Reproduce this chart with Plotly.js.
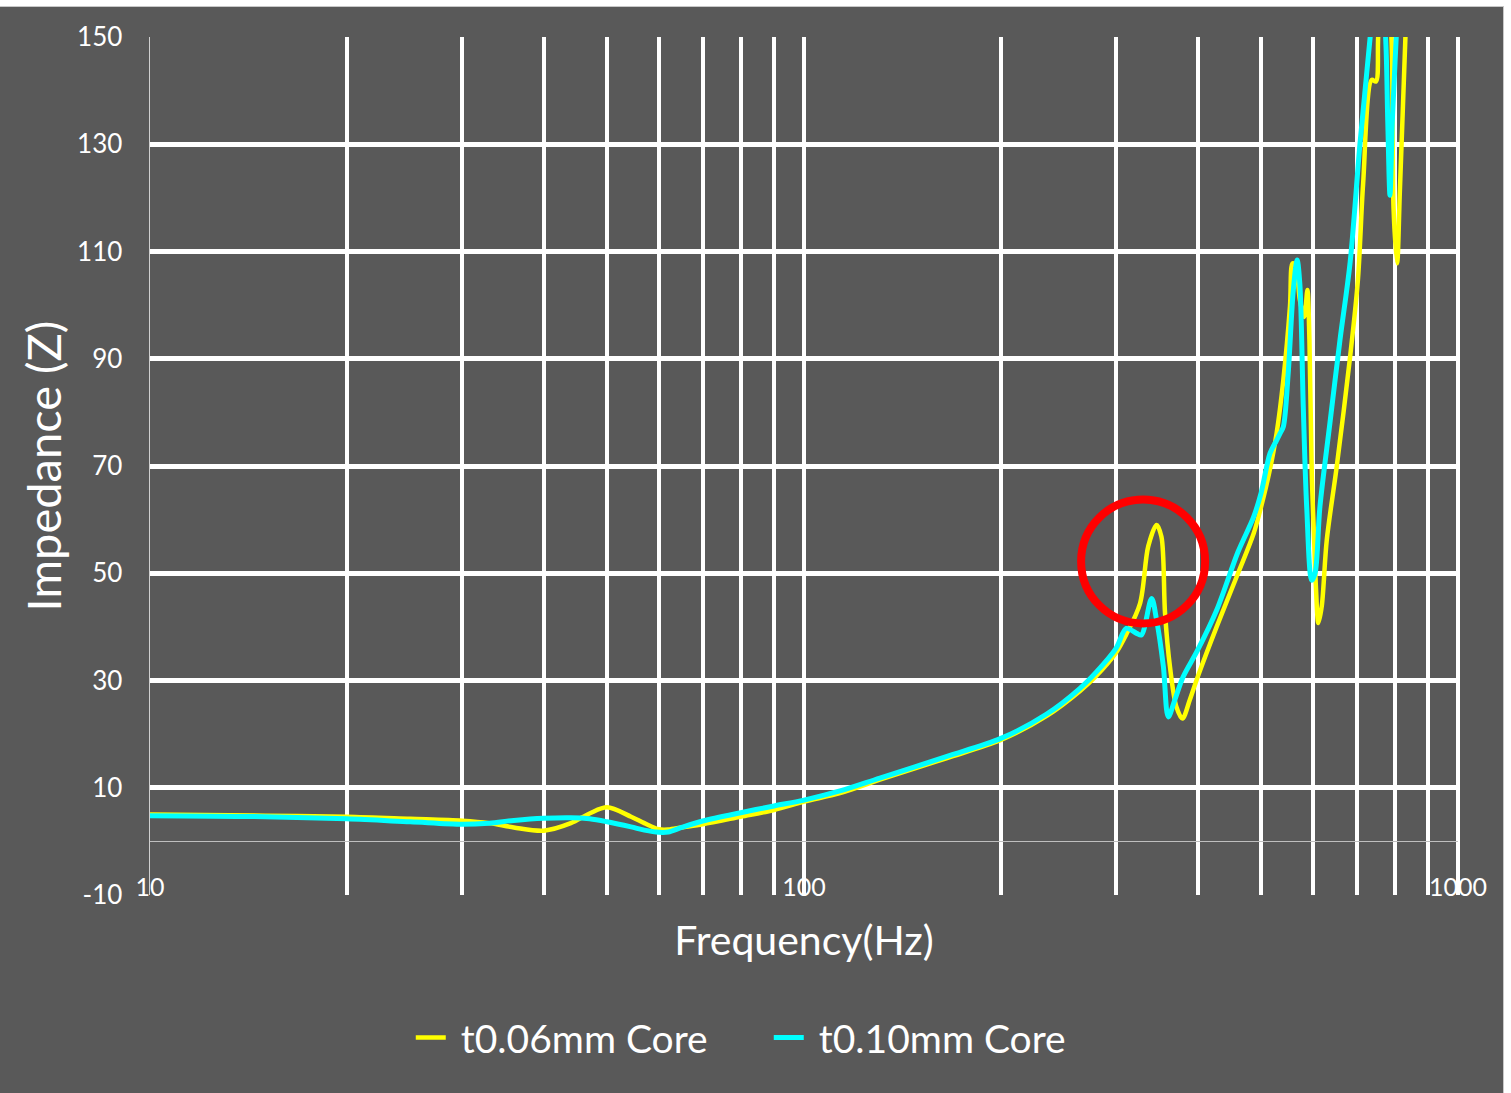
<!DOCTYPE html>
<html>
<head>
<meta charset="utf-8">
<script src="https://cdn.plot.ly/plotly-3.0.1.min.js"></script>
<style>
  html, body { margin: 0; padding: 0; background: #ffffff; }
  #frame {
    position: absolute; left: 0; top: 6px;
    width: 1504px; height: 1087px;
    border-top: 1px solid #c8c8c8; border-right: 1px solid #c8c8c8;
    box-sizing: border-box; background: #595959;
  }
  #chart { position: absolute; left: 0; top: 0; width: 1503px; height: 1086px; }
</style>
</head>
<body>
<div id="frame"><div id="chart"></div></div>
<script>
// Impedance sweep of two core thicknesses (frequency in Hz, impedance in Z)
const seriesNames = ["t0.06mm Core", "t0.10mm Core"];

const freqThin = [10, 15, 20, 25, 30, 33, 36, 40, 44, 47, 50, 54.4, 57, 60, 62, 65, 70, 80, 90, 100,
  113.5, 130.6, 165, 200, 235, 264, 280, 300, 311, 326.5, 336, 346, 352, 356.5, 362.7, 371, 379, 389,
  400, 427.5, 461, 487, 500, 515, 528, 540.6, 553.4, 558.5, 565, 573, 582, 588.5, 592.7, 597.6, 602.6,
  606.7, 611.6, 618.9, 630, 652.5, 684, 703, 716, 738, 749, 755, 770, 791, 797, 807, 815, 831, 845];
const impThin = [5.0, 4.8, 4.6, 4.2, 3.85, 3.4, 2.6, 2.0, 3.4, 5.2, 6.35, 4.6, 3.4, 2.25, 2.2, 2.6, 3.2, 4.6, 5.85, 7.4,
  9.0, 11.5, 15.5, 18.9, 23.4, 28.0, 30.9, 35.2, 38.6, 44.4, 55.0, 59.0, 56.8, 42.5, 32.6, 25.1, 22.9, 26.4,
  30.7, 40.0, 50.0, 57.4, 62.4, 69.0, 76.1, 86.0, 99.7, 107.8, 107.2, 101.0, 97.8, 102.8, 93.5, 68.6, 56.2,
  46.9, 40.7, 43.8, 56.2, 69.9, 90.4, 104.7, 122.6, 142.0, 141.7, 150, 170, 150, 118, 107.8, 121.5, 150, 175];

const freqThick = [10, 15, 20, 25, 30, 33, 36, 40, 44, 47, 50, 54.4, 57, 60, 62, 65, 70, 80, 90, 100,
  113.5, 130.6, 165, 200, 235, 264, 280, 300, 311, 322.5, 328, 340, 346, 354.4, 360.6, 369, 380, 400,
  427.5, 461, 487, 500, 516, 528, 534.5, 540.6, 550, 560, 567.6, 573, 580, 587, 597.6, 604.6, 615,
  637, 660, 684, 708, 734, 755, 775, 781, 787, 794, 806, 820];
const impThick = [4.8, 4.6, 4.2, 3.65, 3.2, 3.4, 3.9, 4.3, 4.4, 4.2, 3.65, 2.7, 2.1, 1.7, 1.75, 2.6, 3.8, 5.35, 6.6, 7.7,
  9.4, 11.8, 15.8, 19.2, 23.75, 28.5, 31.6, 36.0, 39.7, 38.8, 38.5, 45.3, 41.3, 32.6, 23.2, 26.4, 30.7, 35.7,
  43.1, 54.0, 60.5, 65.0, 72.4, 74.8, 76.1, 77.3, 87.3, 102.8, 108.4, 104.0, 81.0, 62.4, 48.7, 50.0, 62.4,
  78.0, 93.5, 108.0, 130.0, 150, 168, 150, 134, 120.5, 135, 152, 175];

// Axis ticks: a grid line on every 1..9 step of each decade, labels on the decades only
const freqTicks = [10, 20, 30, 40, 50, 60, 70, 80, 90, 100, 200, 300, 400, 500, 600, 700, 800, 900, 1000];
const freqTickText = freqTicks.map(v => [10, 100, 1000].includes(v) ? String(v) : "");
const impTicks = [-10, 10, 30, 50, 70, 90, 110, 130, 150];
const impTickText = impTicks.map(v => String(v));

// Axis ranges (x in log10 units)
const freqRange = [1, 3];
const impRange = [-10, 150];

// Highlighted resonance: centre in data units, radius in px
const markFreq = 330;
const markImp = 52.2;
const markRadius = 62;

const FONT = "Lato, 'Open Sans', sans-serif";
const W = 1503, H = 1086;
const M = { l: 150, r: 45, t: 30, b: 198 };
const plotW = W - M.l - M.r;
const plotH = H - M.t - M.b;

// Circle position on the plot area, computed from the axis ranges
const markPx = (Math.log10(markFreq) - freqRange[0]) / (freqRange[1] - freqRange[0]);
const markPy = (markImp - impRange[0]) / (impRange[1] - impRange[0]);
const rX = markRadius / plotW, rY = markRadius / plotH;

// a no-break space keeps some air between the legend swatch and its label
const legendLabel = s => "\u00a0" + s;

const traces = [
  {
    x: freqThin, y: impThin, name: legendLabel(seriesNames[0]), type: "scatter", mode: "lines",
    line: { color: "#ffff00", width: 4.5, shape: "spline", smoothing: 0.9 }
  },
  {
    x: freqThick, y: impThick, name: legendLabel(seriesNames[1]), type: "scatter", mode: "lines",
    line: { color: "#00ffff", width: 5, shape: "spline", smoothing: 0.9 }
  }
];

const layout = {
  width: W, height: H,
  paper_bgcolor: "#595959", plot_bgcolor: "#595959",
  margin: M,
  font: { family: FONT, color: "#ffffff" },
  showlegend: true,
  legend: {
    orientation: "h", xref: "container", yref: "container",
    x: 0.2733, y: 0.051, xanchor: "left", yanchor: "middle",
    font: { family: FONT, size: 39, color: "#ffffff" },
    bgcolor: "rgba(0,0,0,0)", itemwidth: 30, entrywidth: 313
  },
  xaxis: {
    type: "log", range: freqRange,
    tickmode: "array", tickvals: freqTicks, ticktext: freqTickText,
    ticks: "", ticklabelposition: "inside", ticklabeloverflow: "allow", ticklabelstandoff: -9,
    tickfont: { family: FONT, size: 25, color: "#ffffff" },
    showgrid: true, gridcolor: "#ffffff", gridwidth: 4,
    showline: false, zeroline: false,
    title: { text: "Frequency(Hz)", font: { family: FONT, size: 41, color: "#ffffff" }, standoff: 26 },
    automargin: false, fixedrange: true
  },
  yaxis: {
    range: impRange, tickmode: "array", tickvals: impTicks, ticktext: impTickText,
    ticks: "", ticklabelstandoff: 21,
    tickfont: { family: FONT, size: 26, color: "#ffffff" },
    showgrid: true, gridcolor: "#ffffff", gridwidth: 5,
    zeroline: true, zerolinecolor: "#bfbfbf", zerolinewidth: 1.5,
    showline: true, linecolor: "#d0d0d0", linewidth: 1.5,
    title: { text: "Impedance (Z)", font: { family: FONT, size: 47, color: "#ffffff" }, standoff: 0 },
    automargin: false, fixedrange: true
  },
  shapes: [
    {
      // right-hand border of the plot area
      type: "line", xref: "paper", yref: "paper", x0: 1, x1: 1, y0: 0, y1: 1,
      line: { color: "#ffffff", width: 4 }, layer: "below"
    },
    {
      type: "circle", xref: "paper", yref: "paper",
      x0: markPx - rX, x1: markPx + rX, y0: markPy - rY, y1: markPy + rY,
      line: { color: "#ff0000", width: 8 }, fillcolor: "rgba(0,0,0,0)", layer: "above"
    }
  ]
};

Plotly.newPlot("chart", traces, layout, { displayModeBar: false, staticPlot: true });
</script>
</body>
</html>
